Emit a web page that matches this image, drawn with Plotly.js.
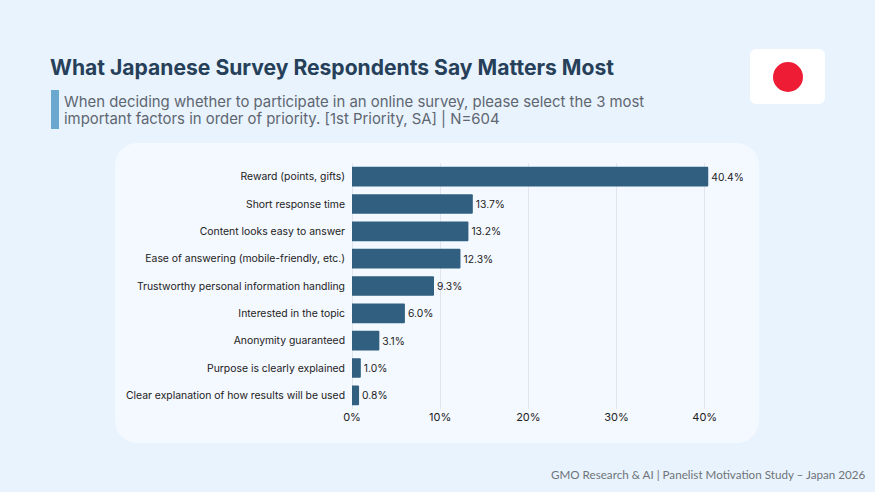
<!DOCTYPE html>
<html>
<head>
<meta charset="utf-8">
<script src="https://cdn.plot.ly/plotly-3.0.1.min.js"></script>
<style>
    html, body { margin: 0; padding: 0; width: 875px; height: 492px; overflow: hidden; background: #e8f3fe; }
    .panel { position: absolute; left: 115px; top: 143px; width: 644px; height: 300px; background: #f4f8ff; border-radius: 22px; }
    .accent { position: absolute; left: 51px; top: 90px; width: 8px; height: 39px; background: #6aa8d0; }
    .flag { position: absolute; left: 750px; top: 49px; width: 75px; height: 55px; background: #fff; border-radius: 6px; }
    .flag div { position: absolute; left: 23px; top: 12.5px; width: 30px; height: 30px; border-radius: 50%; background: #ee1c34; }
    #chart { position: absolute; left: 0; top: 0; width: 875px; height: 492px; }
</style>
</head>
<body>
<div class="panel"></div>
<div class="accent"></div>
<div class="flag"><div></div></div>
<div id="chart"></div>
<script>
var categories = [
    'Reward (points, gifts)',
    'Short response time',
    'Content looks easy to answer',
    'Ease of answering (mobile-friendly, etc.)',
    'Trustworthy personal information handling',
    'Interested in the topic',
    'Anonymity guaranteed',
    'Purpose is clearly explained',
    'Clear explanation of how results will be used'
];
var shares = [40.4, 13.7, 13.2, 12.3, 9.3, 6.0, 3.1, 1.0, 0.8];
var tickValues = [0, 10, 20, 30, 40];
var tickLabels = ['0%', '10%', '20%', '30%', '40%'];

var W = 875, H = 492;
var left = 352, right = 135, top_ = 163, bottom = 83;

// annotation position in page pixels
function label(text, px, py, size, color, family, weight) {
    return {
        text: text,
        xref: 'paper', yref: 'paper',
        x: (px - left) / (W - left - right),
        y: 1 - (py - top_) / (H - top_ - bottom),
        xanchor: 'left', yanchor: 'middle',
        showarrow: false,
        align: 'left',
        font: { size: size, color: color, family: family, weight: weight || 400 }
    };
}

var trace = {
    type: 'bar',
    orientation: 'h',
    y: categories,
    x: shares,
    text: shares.map(function(v) { return v.toFixed(1) + '%'; }),
    textposition: 'outside',
    cliponaxis: false,
    textfont: { size: 10.3, color: '#222222', family: 'Inter, sans-serif' },
    marker: { color: '#305f80', cornerradius: 1, line: { width: 0 } },
    width: 0.72,
    hoverinfo: 'x+y'
};

var layout = {
    width: W,
    height: H,
    paper_bgcolor: 'rgba(0,0,0,0)',
    plot_bgcolor: 'rgba(0,0,0,0)',
    margin: { l: left, r: right, t: top_, b: bottom, pad: 0 },
    showlegend: false,
    xaxis: {
        range: [0, 44],
        tickvals: tickValues,
        ticktext: tickLabels,
        ticks: '',
        showline: false,
        showgrid: true,
        gridcolor: '#e2e6ec',
        gridwidth: 1,
        zeroline: true,
        zerolinecolor: '#e2e6ec',
        zerolinewidth: 1,
        tickfont: { size: 11, color: '#222222', family: 'Inter, sans-serif' }
    },
    yaxis: {
        autorange: 'reversed',
        type: 'category',
        ticks: '',
        ticklen: 0,
        ticklabelstandoff: 6,
        showline: false,
        showgrid: false,
        tickfont: { size: 10.4, color: '#222222', family: 'Inter, sans-serif' }
    },
    annotations: [
        label('What Japanese Survey Respondents Say Matters Most', 48, 67, 21.1, '#264059', 'Inter, sans-serif', 700),
        label('When deciding whether to participate in an online survey, please select the 3 most', 62, 101.5, 14.9, '#5f6670', 'Inter, sans-serif'),
        label('important factors in order of priority. [1st Priority, SA] | N=604', 62, 118.5, 14.9, '#5f6670', 'Inter, sans-serif'),
        label('GMO Research &amp; AI | Panelist Motivation Study – Japan 2026', 549, 474, 11.65, '#6f7379', 'Lato, sans-serif')
    ]
};

Plotly.newPlot('chart', [trace], layout, { displayModeBar: false, staticPlot: true });
</script>
</body>
</html>
